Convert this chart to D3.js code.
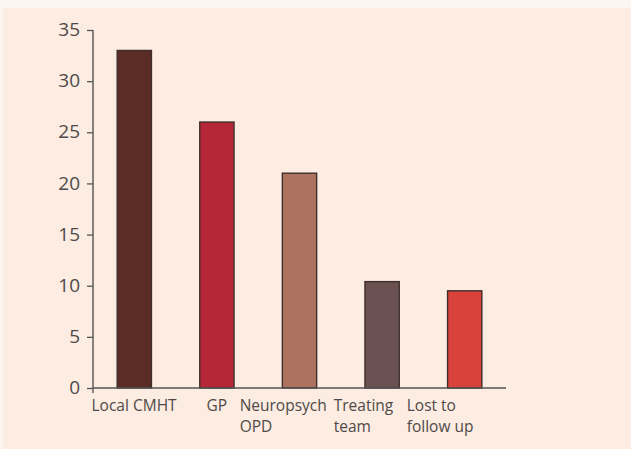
<!DOCTYPE html>
<html>
<head>
<meta charset="utf-8">
<script src="https://cdn.jsdelivr.net/npm/d3@7"></script>
<style>
  html, body { margin: 0; padding: 0; background: #fdf6f0; }
  svg { display: block; }
  text { font-family: "Open Sans", "Noto Sans", sans-serif; fill: #4f4a49; }
</style>
</head>
<body>
<svg id="chart" width="631" height="449"></svg>
<script>
// Destination after discharge: number of patients
const categories = [["Local CMHT"], ["GP"], ["Neuropsych", "OPD"], ["Treating", "team"], ["Lost to", "follow up"]];
const values = [33, 26, 21, 10.4, 9.5];
const barColors = ["#5b2c26", "#b52737", "#ad735e", "#6b5152", "#d9423a"];
const yTicks = [0, 5, 10, 15, 20, 25, 30, 35];

const svg = d3.select("#chart");
const W = 631, H = 449;

// warm paper panel behind the plot
svg.append("rect")
  .attr("x", 3).attr("y", 8)
  .attr("width", W - 3).attr("height", H - 8)
  .attr("fill", "#fcece1");

const margin = { left: 93, right: 125, top: 30, bottom: 61 };
const x0 = margin.left, x1 = W - margin.right;
const yBase = H - margin.bottom;

const x = d3.scaleBand()
  .domain(d3.range(categories.length))
  .range([x0, x1])
  .paddingInner(0.585)
  .paddingOuter(0.2925);

const y = d3.scaleLinear()
  .domain([0, 35])
  .range([yBase, margin.top]);

// bars
svg.append("g")
  .selectAll("rect")
  .data(values)
  .join("rect")
  .attr("x", (d, i) => x(i))
  .attr("y", d => y(d))
  .attr("width", x.bandwidth())
  .attr("height", d => y(0) - y(d))
  .attr("fill", (d, i) => barColors[i])
  .attr("stroke", "#3e2e2c")
  .attr("stroke-width", 1.4);

// y axis
const yAxis = d3.axisLeft(y)
  .tickValues(yTicks)
  .tickSize(6)
  .tickPadding(7);

const gy = svg.append("g")
  .attr("transform", `translate(${x0},0)`)
  .call(yAxis);
gy.select(".domain").remove();
gy.append("line")
  .attr("x1", 0).attr("x2", 0)
  .attr("y1", y(35)).attr("y2", yBase + 5)
  .attr("stroke", "#555")
  .attr("stroke-width", 1.4);
gy.selectAll(".tick line").attr("stroke", "#555").attr("stroke-width", 1.3);
gy.selectAll(".tick text")
  .style("font-size", "19px")
  .attr("dy", "0.3em")
  .attr("fill", "#4f4a49");

// x axis baseline
svg.append("line")
  .attr("x1", x0).attr("x2", x1)
  .attr("y1", yBase).attr("y2", yBase)
  .attr("stroke", "#555")
  .attr("stroke-width", 1.4);

// category labels, each block centred under its bar
const labels = svg.append("g")
  .selectAll("text")
  .data(categories)
  .join("text")
  .style("font-size", "15.5px")
  .attr("y", yBase + 23);

labels.selectAll("tspan")
  .data(d => d)
  .join("tspan")
  .attr("dy", (d, i) => i === 0 ? 0 : 21)
  .text(d => d);

labels.each(function (d, i) {
  const t = d3.select(this);
  const w = this.getBBox().width;
  const left = x(i) + x.bandwidth() / 2 - w / 2;
  t.selectAll("tspan").attr("x", left);
});
</script>
</body>
</html>
